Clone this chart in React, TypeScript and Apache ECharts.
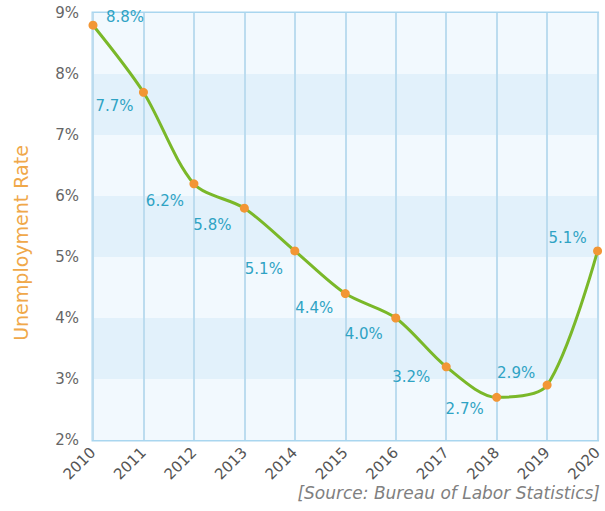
import React, { useEffect, useRef } from "react";
import * as echarts from "echarts";

const years = ["2010", "2011", "2012", "2013", "2014", "2015", "2016", "2017", "2018", "2019", "2020"];
const rates = [8.8, 7.7, 6.2, 5.8, 5.1, 4.4, 4.0, 3.2, 2.7, 2.9, 5.1];
const labelOffsets: [number, number][] = [
  [32, -8], [-29, 14], [-29, 17], [-32, 17], [-31, 18], [-31, 14],
  [-32, 16], [-35, 10], [-32, 12], [-31, -12], [-30, -13],
];
const yTicks = [2, 3, 4, 5, 6, 7, 8, 9];
const FONT = "'DejaVu Sans', sans-serif";

export default function App() {
  const ref = useRef<HTMLDivElement>(null);
  useEffect(() => {
    if (!ref.current) return;
    const chart = echarts.init(ref.current, null, { renderer: "svg" });
    chart.setOption({
      animation: false,
      backgroundColor: "#ffffff",
      grid: {
        left: 93, right: 5, top: 13, bottom: 71,
        show: true, borderColor: "#a9d6ef", borderWidth: 3,
        backgroundColor: "transparent",
      },
      graphic: [
        {
          type: "text", right: 5, top: 484,
          style: {
            text: "[Source: Bureau of Labor Statistics]",
            fill: "#808080", font: "italic 17px 'DejaVu Sans', sans-serif",
          },
        },
        {
          type: "text", x: 11, y: 243, rotation: Math.PI / 2,
          style: {
            text: "Unemployment Rate", fill: "#f0a84a",
            font: "19px 'DejaVu Sans', sans-serif",
            align: "center", verticalAlign: "top",
          },
        },
      ],
      xAxis: {
        type: "category",
        data: years,
        boundaryGap: false,
        axisLine: { show: false },
        axisTick: { show: false },
        axisLabel: {
          rotate: 45, color: "#555", fontSize: 15,
          fontFamily: FONT, margin: 10,
        },
        splitLine: { show: true, lineStyle: { color: "#bcdcef", width: 2 } },
      },
      yAxis: {
        type: "value",
        min: yTicks[0], max: yTicks[yTicks.length - 1], interval: 1,
        axisLine: { show: false },
        axisTick: { show: false },
        axisLabel: {
          color: "#666", fontSize: 15, margin: 14,
          fontFamily: FONT,
          formatter: (v: number) => v + "%",
        },
        splitLine: { show: false },
        splitArea: { show: true, areaStyle: { color: ["#f2f9fe", "#e2f1fb"] } },
      },
      series: [
        {
          type: "line",
          data: rates.map((v, i) => ({
            value: v,
            label: { offset: labelOffsets[i] },
          })),
          smooth: 0.3,
          symbol: "circle",
          symbolSize: 9,
          lineStyle: { color: "#7ab829", width: 3 },
          itemStyle: { color: "#f29635" },
          label: {
            show: true, position: "inside",
            color: "#2fa3c4", fontSize: 15,
            fontFamily: FONT,
            formatter: (p: any) => p.value.toFixed(1) + "%",
          },
          z: 5,
        },
      ],
    });
    return () => chart.dispose();
  }, []);
  return <div ref={ref} style={{ width: 605, height: 511, position: "absolute", left: 0, top: 0 }} />;
}
